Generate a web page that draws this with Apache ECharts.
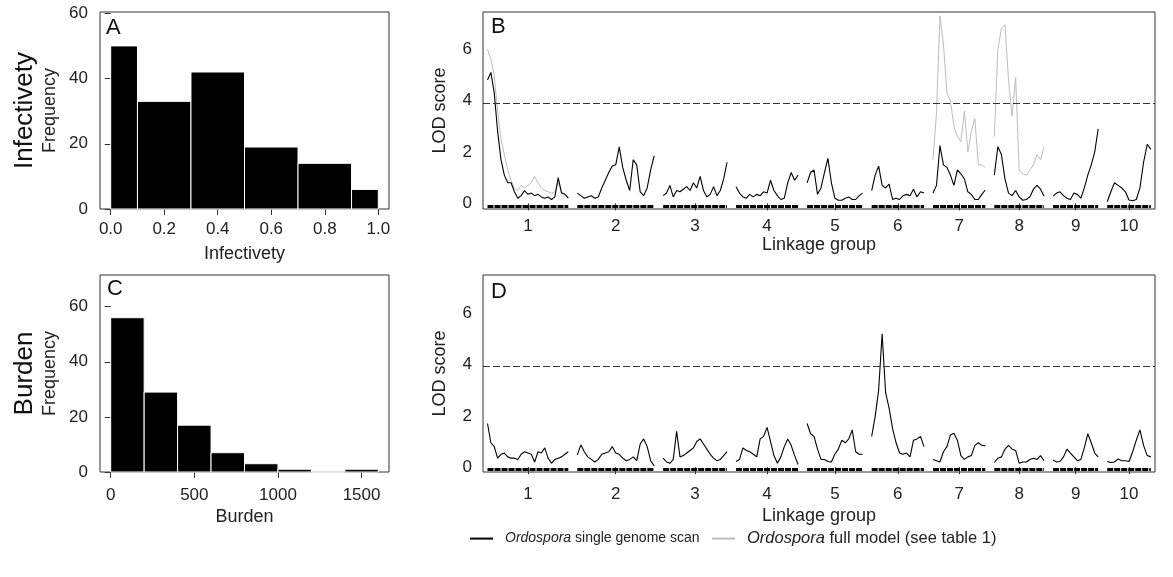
<!DOCTYPE html>
<html><head><meta charset="utf-8">
<script src="https://cdn.jsdelivr.net/npm/echarts@6/dist/echarts.min.js"></script>
<style>html,body{margin:0;padding:0;background:#fff}#c{width:1173px;height:577px}</style>
</head><body><div id="c"></div>
<script>
const FONT = "'Liberation Sans', Arial, sans-serif";

// Panel A histogram
const infectEdges = [0, 0.1, 0.3, 0.5, 0.7, 0.9, 1.0];
const infectCounts = [50, 33, 42, 19, 14, 6];
const infectTicks = [0, 0.2, 0.4, 0.6, 0.8, 1.0];
// Panel C histogram
const burdenEdges = [0, 200, 400, 600, 800, 1000, 1200, 1400, 1600];
const burdenCounts = [56, 29, 17, 7, 3, 1, 0, 1];
const burdenTicks = [0, 500, 1000, 1500];
const freqTicks = [0, 20, 40, 60];
const lodTicks = [0, 2, 4, 6];

// Linkage groups (cM) and gap
const chrNames = ['1','2','3','4','5','6','7','8','9','10'];
const chrLengths = [224, 213, 177, 172, 154, 145, 145, 138, 125, 121];
const chrGap = 25;
const thresholdB = 3.9;
const thresholdD = 3.95;

// Panel B: single genome scan (infectivety), LOD along each linkage group
const lodB1 = [4.8,5.1,4.3,2.8,1.7,1.1,0.8,0.8,0.45,0.2,0.3,0.5,0.35,0.4,0.3,0.35,0.25,0.2,0.25,0.15,0.25,1.0,0.4,0.35,0.2];
const lodB2 = [0.4,0.3,0.2,0.25,0.3,0.2,0.25,0.6,0.9,1.2,1.45,1.5,2.2,1.4,0.9,0.5,1.7,1.5,0.45,0.3,0.6,1.3,1.85];
const lodB3 = [0.3,0.4,0.7,0.25,0.5,0.45,0.55,0.65,0.5,0.8,0.6,1.05,0.5,0.25,0.35,0.65,0.3,0.5,0.95,1.6];
const lodB4 = [0.65,0.4,0.25,0.2,0.35,0.25,0.35,0.3,0.45,0.4,0.9,0.5,0.3,0.15,0.2,0.8,1.2,0.9,1.1];
const lodB5 = [0.8,1.2,1.3,0.35,0.6,1.2,1.75,0.8,0.2,0.12,0.12,0.2,0.25,0.15,0.15,0.3,0.4];
const lodB6 = [0.5,1.1,1.45,0.7,0.6,0.75,0.15,0.2,0.15,0.3,0.35,0.3,0.55,0.25,0.45,0.4];
const lodB7 = [0.4,0.7,2.25,1.5,1.4,1.1,0.7,1.3,1.15,0.95,0.45,0.35,0.15,0.15,0.35,0.52];
const lodB8 = [1.1,2.2,1.9,0.95,0.4,0.3,0.5,0.25,0.12,0.15,0.25,0.55,0.7,0.55,0.28];
const lodB9 = [0.28,0.4,0.45,0.3,0.2,0.15,0.4,0.35,0.2,0.6,1.1,1.5,2.0,2.9];
const lodB10 = [0.06,0.45,0.8,0.7,0.6,0.45,0.13,0.1,0.15,0.6,1.6,2.3,2.1];
// Panel B: full model (grey), only groups 1, 7, 8
const fullB1 = [6.0,5.6,5.0,3.6,2.5,1.9,1.3,0.9,0.6,0.5,0.7,0.6,0.7,0.8,1.05,0.8,0.6,0.5,0.45,0.4,0.45,0.8,0.45,0.35,0.25];
const fullB7 = [1.7,3.5,7.3,6.2,4.3,4.0,3.0,2.6,2.4,3.6,2.0,2.8,3.3,1.5,1.5,1.4];
const fullB8 = [2.6,6.0,6.8,6.95,4.8,3.4,4.9,1.3,1.15,1.1,1.3,1.5,1.9,1.7,2.2];
// Panel D: single genome scan (burden)
const lodD1 = [1.7,0.95,0.8,0.35,0.5,0.55,0.4,0.35,0.35,0.3,0.5,0.6,0.55,0.5,0.2,0.6,0.55,0.75,0.35,0.15,0.3,0.35,0.4,0.5,0.6];
const lodD2 = [0.48,0.87,0.6,0.4,0.3,0.2,0.3,0.5,0.55,0.6,0.8,0.55,0.5,0.35,0.25,0.3,0.4,0.25,0.9,1.1,0.8,0.25,0.05];
const lodD3 = [0.35,0.2,0.15,0.3,1.4,0.4,0.45,0.55,0.65,0.75,1.0,1.1,0.9,0.7,0.5,0.35,0.25,0.3,0.45,0.6];
const lodD4 = [0.22,0.3,0.75,0.65,0.6,0.5,0.4,1.1,1.2,1.55,1.0,0.45,0.15,0.4,0.8,1.1,0.85,0.45,0.1];
const lodD5 = [1.7,1.3,1.2,0.7,0.3,0.3,0.22,0.2,0.5,0.7,1.05,0.95,1.1,1.45,0.6,0.5,0.5];
const lodD6 = [1.2,1.97,3.0,5.2,2.9,2.3,1.5,0.95,0.55,0.5,0.55,0.4,1.05,1.1,1.2,0.8];
const lodD7 = [0.3,0.25,0.2,0.6,0.8,1.25,1.32,1.05,0.45,0.3,0.4,0.45,0.85,0.95,0.85,0.83];
const lodD8 = [0.18,0.35,0.4,0.7,0.85,0.7,0.65,0.15,0.2,0.2,0.3,0.35,0.3,0.45,0.25];
const lodD9 = [0.28,0.2,0.22,0.4,0.7,0.55,0.4,0.25,0.3,0.75,1.3,0.95,0.55,0.4];
const lodD10 = [0.22,0.18,0.2,0.32,0.25,0.25,0.22,0.6,1.05,1.45,0.85,0.45,0.4];

const NAME_SINGLE = 'Ordospora single genome scan';
const NAME_FULL = 'Ordospora full model (see table 1)';

// derived layout of linkage groups
const chrStart = [];
{ let acc = 0; chrLengths.forEach((L) => { chrStart.push(acc); acc += L + chrGap; }); }
const chrMid = chrStart.map((s, i) => s + chrLengths[i] / 2);

function lodSeriesData(perChr) {
  const out = [];
  perChr.forEach((vals, c) => {
    if (!vals) return;
    const n = vals.length;
    vals.forEach((v, i) => out.push([chrStart[c] + chrLengths[c] * i / (n - 1), v]));
    out.push([chrStart[c] + chrLengths[c] + chrGap / 2, '-']);
  });
  return out;
}

function histSeries(edges, counts, idx) {
  return {
    type: 'custom', xAxisIndex: idx, yAxisIndex: idx, silent: true,
    data: counts.map((c, i) => [edges[i], edges[i + 1], c]),
    encode: { x: [0, 1], y: 2 },
    renderItem: (params, api) => {
      const p0 = api.coord([api.value(0), 0]);
      const p1 = api.coord([api.value(1), api.value(2)]);
      return { type: 'rect', shape: { x: p0[0], y: p1[1], width: p1[0] - p0[0], height: p0[1] - p1[1] },
        style: { fill: '#000', stroke: '#fff', lineWidth: 1 } };
    }
  };
}

function rugSeries(idx) {
  return {
    type: 'custom', xAxisIndex: idx, yAxisIndex: idx, silent: true,
    data: chrStart.map((s, i) => [s, s + chrLengths[i]]),
    encode: { x: [0, 1] },
    renderItem: (params, api) => {
      const a = api.coord([api.value(0), 0]);
      const b = api.coord([api.value(1), 0]);
      const bottom = params.coordSys.y + params.coordSys.height;
      return { type: 'line', shape: { x1: a[0], y1: bottom - 2.5, x2: b[0], y2: bottom - 2.5 },
        style: { stroke: '#000', lineWidth: 3, lineDash: [6, 1] } };
    }
  };
}

const lblStyle = { fontSize: 17, color: '#222', fontFamily: FONT };
const nameStyle = { fontSize: 18, color: '#222', fontFamily: FONT };

function histX(idx, min, max, ticks, fmt, name, margin) {
  return { gridIndex: idx, type: 'value', min, max,
    axisLine: { show: false },
    axisTick: { show: true, length: 6, customValues: ticks, lineStyle: { color: '#333' } },
    axisLabel: Object.assign({ customValues: ticks, formatter: fmt, margin }, lblStyle),
    splitLine: { show: false },
    name, nameLocation: 'middle', nameGap: 36, nameTextStyle: nameStyle };
}
function histY(idx, max) {
  return { gridIndex: idx, type: 'value', min: 0, max,
    axisLine: { show: false },
    axisTick: { show: true, length: 6, customValues: freqTicks, lineStyle: { color: '#333' } },
    axisLabel: Object.assign({ customValues: freqTicks, margin: 12 }, lblStyle),
    splitLine: { show: false },
    name: 'Frequency', nameLocation: 'middle', nameGap: 41, nameTextStyle: nameStyle };
}
function lodX(idx, margin, nameGap) {
  return { gridIndex: idx, type: 'value', min: -12.5, max: 1850.5,
    axisLine: { show: false },
    axisTick: { show: true, length: 7, customValues: chrMid, lineStyle: { color: '#333' } },
    axisLabel: Object.assign({ customValues: chrMid, margin,
      formatter: (v) => { const i = chrMid.findIndex((m) => Math.abs(m - v) < 1e-6); return i >= 0 ? chrNames[i] : ''; } }, lblStyle),
    splitLine: { show: false },
    name: 'Linkage group', nameLocation: 'middle', nameGap, nameTextStyle: nameStyle };
}
function lodY(idx, min, max) {
  return { gridIndex: idx, type: 'value', min, max,
    axisLine: { show: false }, axisTick: { show: false },
    axisLabel: Object.assign({ customValues: lodTicks, margin: 11 }, lblStyle),
    splitLine: { show: false },
    name: 'LOD score', nameLocation: 'middle', nameGap: 34, nameTextStyle: nameStyle };
}

function threshold(v) {
  return { silent: true, symbol: 'none', label: { show: false }, data: [{ yAxis: v }],
    lineStyle: { type: [7, 3], color: '#333', width: 1 } };
}

function legendFor(name, left, size) {
  return {
    left, top: 535 - size * 0.6, itemWidth: 23, itemHeight: 2, icon: 'rect',
    data: [name],
    formatter: (n) => '{i|Ordospora}' + n.slice(9),
    textStyle: { fontSize: size, fontFamily: FONT, color: '#222', padding: [0, 0, 0, 7],
      rich: { i: { fontStyle: 'italic', fontSize: size, fontFamily: FONT, color: '#222' } } }
  };
}

const gridBase = { show: true, borderColor: '#333', borderWidth: 1, backgroundColor: 'transparent', containLabel: false };

const option = {
  animation: false,
  backgroundColor: '#fff',
  grid: [
    Object.assign({ left: 100, top: 12, width: 289, height: 197 }, gridBase),
    Object.assign({ left: 483, top: 12, width: 672, height: 197 }, gridBase),
    Object.assign({ left: 100, top: 275, width: 289, height: 197 }, gridBase),
    Object.assign({ left: 483, top: 275, width: 672, height: 197 }, gridBase)
  ],
  xAxis: [
    histX(0, -0.04, 1.04, infectTicks, (v) => v.toFixed(1), 'Infectivety', 12),
    lodX(1, 9, 24),
    histX(2, -64, 1664, burdenTicks, (v) => String(v), 'Burden', 15),
    lodX(3, 14, 35)
  ],
  yAxis: [
    histY(0, 60.4),
    lodY(1, -0.22, 7.45),
    histY(2, 71.5),
    lodY(3, -0.19, 7.49)
  ],
  legend: [
    legendFor(NAME_SINGLE, 465, 14),
    legendFor(NAME_FULL, 707, 16.5)
  ],
  graphic: [
    { type: 'text', x: 25, y: 110.5, rotation: Math.PI / 2, style: { text: 'Infectivety', fontSize: 26, fontFamily: FONT, fill: '#111', align: 'center', verticalAlign: 'middle' } },
    { type: 'text', x: 25, y: 373.5, rotation: Math.PI / 2, style: { text: 'Burden', fontSize: 26, fontFamily: FONT, fill: '#111', align: 'center', verticalAlign: 'middle' } },
    { type: 'text', x: 106, y: 28, style: { text: 'A', fontSize: 22, fontFamily: FONT, fill: '#111', verticalAlign: 'middle' } },
    { type: 'text', x: 491, y: 27, style: { text: 'B', fontSize: 22, fontFamily: FONT, fill: '#111', verticalAlign: 'middle' } },
    { type: 'text', x: 107, y: 289, style: { text: 'C', fontSize: 22, fontFamily: FONT, fill: '#111', verticalAlign: 'middle' } },
    { type: 'text', x: 491, y: 292, style: { text: 'D', fontSize: 22, fontFamily: FONT, fill: '#111', verticalAlign: 'middle' } }
  ],
  series: [
    histSeries(infectEdges, infectCounts, 0),
    histSeries(burdenEdges, burdenCounts, 2),
    rugSeries(1),
    rugSeries(3),
    { name: NAME_FULL, type: 'line', xAxisIndex: 1, yAxisIndex: 1, symbol: 'none', connectNulls: false,
      itemStyle: { color: '#bdbdbd' }, lineStyle: { color: '#bdbdbd', width: 1 },
      data: lodSeriesData([fullB1, null, null, null, null, null, fullB7, fullB8, null, null]) },
    { name: NAME_SINGLE, type: 'line', xAxisIndex: 1, yAxisIndex: 1, symbol: 'none', connectNulls: false,
      itemStyle: { color: '#000' }, lineStyle: { color: '#000', width: 1.1 },
      data: lodSeriesData([lodB1, lodB2, lodB3, lodB4, lodB5, lodB6, lodB7, lodB8, lodB9, lodB10]),
      markLine: threshold(thresholdB) },
    { name: NAME_SINGLE, type: 'line', xAxisIndex: 3, yAxisIndex: 3, symbol: 'none', connectNulls: false,
      itemStyle: { color: '#000' }, lineStyle: { color: '#000', width: 1.1 },
      data: lodSeriesData([lodD1, lodD2, lodD3, lodD4, lodD5, lodD6, lodD7, lodD8, lodD9, lodD10]),
      markLine: threshold(thresholdD) }
  ]
};

const chart = echarts.init(document.getElementById('c'), null, { renderer: 'canvas' });
chart.setOption(option);
</script></body></html>
